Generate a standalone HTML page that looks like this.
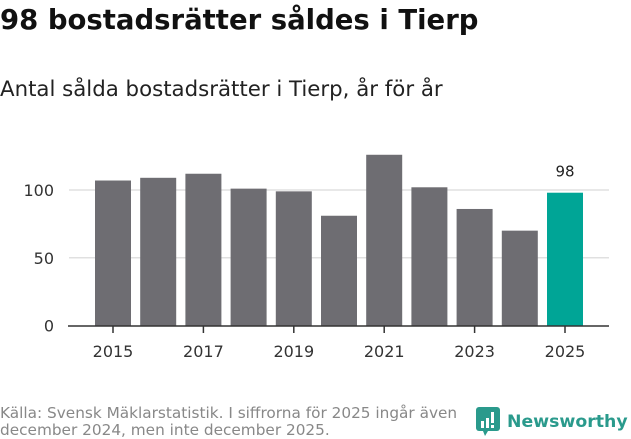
<!DOCTYPE html>
<html><head><meta charset="utf-8"><style>
body{margin:0;width:631px;height:439px;background:#fff;font-family:"DejaVu Sans","Liberation Sans",sans-serif;overflow:hidden;position:relative}
.t{position:absolute;left:0;top:4px;font-size:27.5px;font-weight:bold;color:#111;white-space:nowrap}
.s{position:absolute;left:0;top:77px;font-size:21.3px;color:#222;white-space:nowrap}
.src{position:absolute;left:0;top:405px;font-size:15.3px;line-height:17px;color:#888;white-space:nowrap}
.logo{position:absolute;left:476px;top:407px;display:flex;align-items:center}
.logo span{font-size:17.3px;color:#2a9a8c;font-weight:bold;margin-left:7px;white-space:nowrap}
</style></head><body>
<div class="t">98 bostadsrätter såldes i Tierp</div>
<div class="s">Antal sålda bostadsrätter i Tierp, år för år</div>
<svg id="c" width="631" height="439" style="position:absolute;left:0;top:0"></svg>
<div class="src">Källa: Svensk Mäklarstatistik. I siffrorna för 2025 ingår även<br>december 2024, men inte december 2025.</div>
<div class="logo">
<svg width="24" height="30" viewBox="0 0 24 30"><rect x="0" y="0" width="24" height="24" rx="3" fill="#2a9a8c"/><polygon points="7,24 12,24 9,29" fill="#2a9a8c"/><rect x="5" y="14" width="3" height="7" fill="#fff"/><rect x="10" y="11" width="3" height="10" fill="#fff"/><rect x="15" y="5" width="3" height="11" fill="#fff"/><rect x="15" y="18" width="3" height="3" fill="#fff"/></svg>
<span>Newsworthy</span></div>
<script>
const years=[2015,2016,2017,2018,2019,2020,2021,2022,2023,2024,2025];
const values=[107,109,112,101,99,81,126,102,86,70,98];
const yTicks=[0,50,100];
const xTickLabels=[2015,2017,2019,2021,2023,2025];
const svg=document.getElementById('c');const NS='http://www.w3.org/2000/svg';
const y0=325.5,k=1.355;
function y(v){return y0-v*k;}
function x(yr){return 113+(yr-2015)*45.2;}
function el(t,a){const e=document.createElementNS(NS,t);for(const n in a)e.setAttribute(n,a[n]);svg.appendChild(e);return e;}
yTicks.forEach(t=>{
 if(t>0){const g=el('line',{x1:69,x2:609,y1:y(t),y2:y(t),stroke:'#e0e0e0','stroke-width':1.5});
 
 }
 const l=el('text',{x:54,y:y(t)+6,'text-anchor':'end','font-size':16,fill:'#333'});l.textContent=t;
 
 
});
years.forEach((yr,i)=>{
 const last=i===years.length-1;
 const r=el('rect',{x:x(yr)-18,y:y(values[i]),width:36,height:values[i]*k,fill:last?'#00a596':'#6e6d72'});
 
 
 if(last){const t=el('text',{x:x(yr),y:y(values[i])-16,'text-anchor':'middle','font-size':15,fill:'#222'});t.textContent=values[i];
 
 }
});
const ax=el('line',{x1:68,x2:609,y1:326,y2:326,stroke:'#333','stroke-width':1.5});


xTickLabels.forEach(yr=>{
 el('line',{x1:x(yr),x2:x(yr),y1:326,y2:333,stroke:'#333','stroke-width':1.5});
 const t=el('text',{x:x(yr),y:357,'text-anchor':'middle','font-size':16,fill:'#333'});t.textContent=yr;
 
 
});
</script>
</body></html>
